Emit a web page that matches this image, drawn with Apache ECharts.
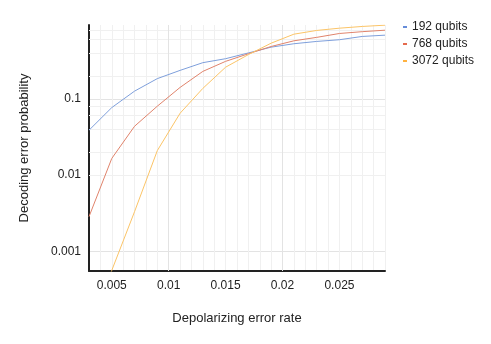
<!DOCTYPE html>
<html>
<head>
<meta charset="utf-8">
<script src="https://cdn.jsdelivr.net/npm/echarts@6/dist/echarts.min.js"></script>
<style>
html,body{margin:0;padding:0;background:#fff;}
#chart{width:491px;height:344px;}
</style>
</head>
<body>
<div id="chart"></div>
<script>
// Data
var errorRates = [0.003, 0.005, 0.007, 0.009, 0.011, 0.013, 0.015, 0.017, 0.019, 0.021, 0.023, 0.025, 0.027, 0.029];
var seriesNames = ['192 qubits', '768 qubits', '3072 qubits'];
var q192 = [0.0387, 0.0767, 0.126, 0.184, 0.236, 0.298, 0.336, 0.40, 0.476, 0.528, 0.566, 0.596, 0.658, 0.684];
var q768 = [0.00284, 0.0165, 0.0436, 0.080, 0.141, 0.229, 0.31, 0.39, 0.486, 0.577, 0.64, 0.72, 0.76, 0.795];
var q3072 = [0.0001, 0.00056, 0.0033, 0.0209, 0.0646, 0.137, 0.26, 0.38, 0.537, 0.705, 0.789, 0.845, 0.89, 0.925];
var xMajorTicks = [0.005, 0.01, 0.015, 0.02, 0.025];
var yMinorGrid = [0.0006, 0.0008, 0.002, 0.004, 0.006, 0.008, 0.02, 0.04, 0.06, 0.08, 0.2, 0.4, 0.6, 0.8];

var lineColors = ['#7e9fdb', '#e0836b', '#fbc467'];
var legendColors = ['#3366cc', '#dc3912', '#ff9900'];
var FONT = 'Liberation Sans, Arial, sans-serif';

function pairs(ys) {
  return errorRates.map(function (x, i) { return [x, ys[i]]; });
}

var chart = echarts.init(document.getElementById('chart'), null, {renderer: 'canvas'});

var gridMarks = [];
yMinorGrid.forEach(function (v) { gridMarks.push({yAxis: v}); });
xMajorTicks.forEach(function (v) { gridMarks.push({xAxis: v, lineStyle: {color: '#e3e3e3'}}); });

var allSeries = [
  {
    name: '_grid', type: 'line', data: [], silent: true, z: 1,
    markLine: {
      z: 1, silent: true, symbol: 'none', animation: false,
      label: {show: false},
      lineStyle: {color: '#f0f0f0', type: 'solid', width: 1},
      emphasis: {disabled: true},
      data: gridMarks
    }
  }
];
[q192, q768, q3072].forEach(function (arr, i) {
  allSeries.push({
    name: seriesNames[i], type: 'line', data: pairs(arr), z: 3,
    showSymbol: false, symbol: 'none', clip: true,
    lineStyle: {color: lineColors[i], width: 1},
    itemStyle: {color: lineColors[i]}
  });
});

chart.setOption({
  animation: false,
  textStyle: {fontFamily: FONT},
  grid: {left: 89, right: 106, top: 25, bottom: 73, containLabel: false},
  legend: {
    orient: 'vertical', left: 403, top: 20, padding: 0,
    icon: 'rect', itemWidth: 4, itemHeight: 1.5, itemGap: 3,
    textStyle: {fontFamily: FONT, fontSize: 12, color: '#222', lineHeight: 14},
    data: seriesNames.map(function (n, i) { return {name: n, itemStyle: {color: legendColors[i]}}; })
  },
  xAxis: {
    type: 'value', min: 0.003, max: 0.029, interval: 0.001,
    name: 'Depolarizing error rate', nameLocation: 'middle', nameGap: 41,
    nameTextStyle: {fontFamily: FONT, fontSize: 13, color: '#222'},
    axisLine: {show: true, onZero: false, lineStyle: {color: '#222', width: 2}},
    axisTick: {show: false},
    axisLabel: {
      fontFamily: FONT, fontSize: 12, color: '#222', margin: 9,
      formatter: function (v) {
        var k = Math.round(v * 1000);
        return (k % 5 === 0) ? String(+v.toFixed(3)) : '';
      }
    },
    splitLine: {show: true, lineStyle: {color: '#f0f0f0', width: 1}}
  },
  yAxis: {
    type: 'log', logBase: 10, min: 0.00055, max: 0.93,
    name: 'Decoding error probability', nameLocation: 'middle', nameGap: 58,
    nameTextStyle: {fontFamily: FONT, fontSize: 13, color: '#222'},
    axisLine: {show: true, lineStyle: {color: '#222', width: 2}},
    axisTick: {show: false},
    axisLabel: {
      fontFamily: FONT, fontSize: 12, color: '#222', margin: 8,
      showMinLabel: false, showMaxLabel: false,
      formatter: function (v) { return String(+v.toPrecision(1)); }
    },
    splitLine: {show: true, showMinLine: false, showMaxLine: false, lineStyle: {color: '#e3e3e3', width: 1}}
  },
  series: allSeries
});
</script>
</body>
</html>
